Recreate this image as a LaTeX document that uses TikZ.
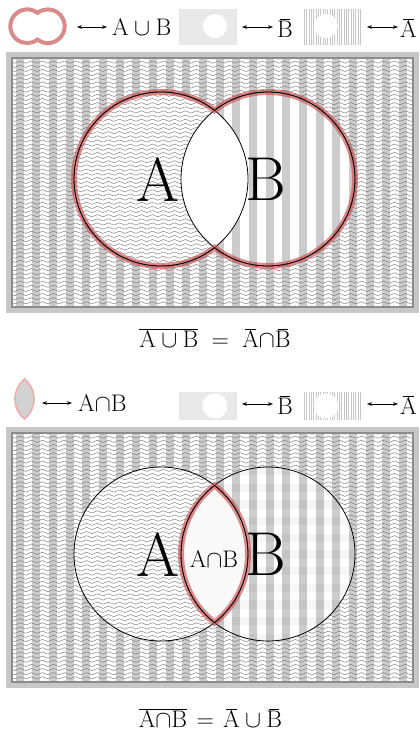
\RequirePackage{fix-cm}
\documentclass[tikz,border=0pt]{standalone}
\usetikzlibrary{decorations.pathmorphing,arrows.meta}
\definecolor{stripegray}{gray}{0.80}
\definecolor{wavegray}{gray}{0.42}
\definecolor{frameL}{gray}{0.78}
\definecolor{frameD}{gray}{0.55}
\definecolor{bandred}{RGB}{200,80,80}
\definecolor{iconred}{RGB}{217,138,138}
\definecolor{lenspink}{RGB}{240,172,172}
\tikzset{
  wavyline/.style={draw=wavegray, line width=0.35pt, decorate,
     decoration={snake, amplitude=1.1pt, segment length=11pt}},
  framelight/.style={draw=frameL, line width=5pt},
  framedark/.style={draw=frameD, line width=2pt},
  circ/.style={draw=black, line width=0.8pt},
  band/.style={draw=bandred, draw opacity=0.65, line width=6pt},
  dblarrow/.style={arrows={Stealth[length=5pt,width=3.6pt]-Stealth[length=5pt,width=3.6pt]}, line width=0.6pt},
  lbl/.style={font=\fontsize{24}{28}\selectfont, inner sep=0pt},
  biglbl/.style={font=\fontsize{62}{62}\selectfont, inner sep=0pt},
}
\newcommand{\sbar}[1]{\mkern2mu\overline{\mkern-2mu\mathrm{#1}\mkern-2mu}\mkern2mu}
\newcommand{\VStripes}[2]{%
  \foreach \i in {0,...,23} {\fill[stripegray] ({15.5+16.667*\i},#1) rectangle ++(8.3,#2);}}
\newcommand{\Waves}[1]{%
  \foreach \j in {0,...,60} {\draw[wavyline] (6,{#1+4.15*\j}) -- (420,{#1+4.15*\j});}}
\newcommand{\LensPath}{(214.5,110.4) arc[start angle=-52.05, end angle=52.05, radius=87] arc[start angle=127.95, end angle=232.05, radius=87] -- cycle}
\newcommand{\UnionPath}{(214.5,110.4) arc[start angle=-52.05, end angle=-307.95, radius=87] arc[start angle=127.95, end angle=-127.95, radius=87] -- cycle}
\newcommand{\PanelBase}{%
  \begin{scope}
    \clip (12,58) rectangle (413,307);
    \fill[white] (12,58) rectangle (413,307);
    \VStripes{58}{249}
    \fill[white] (161,179) circle[radius=87];
    \Waves{58}
    \fill[white] (268,179) circle[radius=87];
    \begin{scope}
      \clip (268,179) circle[radius=87];
      \VStripes{58}{249}
    \end{scope}
  \end{scope}
  \draw[framelight] (8.5,54.5) rectangle (416.5,310.5);
  \draw[framedark] (12,58) rectangle (413,307);}
\newcommand{\MiniB}[2]{% top y, height
  \fill[gray!17] (179,#1) rectangle (237,#1+#2);}
\newcommand{\MiniA}[2]{%
  \foreach \k in {0,...,24} {\fill[gray!45] ({304+2.33*\k},#1) rectangle ++(1,#2);}}
\begin{document}
\begin{tikzpicture}[x=1pt,y=-1pt]
\useasboundingbox (0,0) rectangle (420,734);
\fill[white] (0,0) rectangle (420,734);

% ---------- top legend ----------
\draw[iconred, line width=4pt] (37.5,12.9) arc[start angle=-52.3, end angle=-307.7, radius=16.85]
   arc[start angle=127.7, end angle=-127.7, radius=16.85] -- cycle;
\coordinate (ua1) at (77,27); \coordinate (ua2) at (107,27);
\draw[dblarrow] (ua1) -- (ua2);
\node[lbl, anchor=base west] (tAuB) at (112,35.5) {$\mathrm{A}\cup\mathrm{B}$};

\MiniB{9}{36}
\fill[white] (215,26) circle[radius=12];
\coordinate (ba1) at (242,27); \coordinate (ba2) at (273,27);
\draw[dblarrow] (ba1) -- (ba2);
\node[lbl, anchor=base west] (tBbar) at (277,37) {$\sbar{B}$};

\MiniA{9}{36}
\fill[white] (326,26) circle[radius=12];
\coordinate (aa1) at (367,27); \coordinate (aa2) at (398,27);
\draw[dblarrow] (aa1) -- (aa2);
\node[lbl, anchor=base west] (tAbar) at (400,37) {$\sbar{A}$};

% ---------- top panel ----------
\PanelBase
\fill[white] \LensPath;
\draw[circ] (161,179) circle[radius=87];
\draw[circ] (268,179) circle[radius=87];
\draw[band] \UnionPath;
\draw[circ] \UnionPath;
\node[biglbl, anchor=base] (bigA1) at (158,201) {A};
\node[biglbl, anchor=base] (bigB1) at (266,200) {B};
\node[lbl, anchor=base] (eq1) at (215,347) {$\overline{\mathrm{A}\cup\mathrm{B}}\;=\;\sbar{A}{\cap}\sbar{B}$};

% ---------- bottom legend ----------
\filldraw[fill=gray!35, draw=lenspink, line width=1.6pt] (24.5,379) arc[start angle=-50.8, end angle=50.8, radius=25.8]
   arc[start angle=129.2, end angle=230.8, radius=25.8] -- cycle;
\coordinate (la1) at (42,403); \coordinate (la2) at (72,403);
\draw[dblarrow] (la1) -- (la2);
\node[lbl, anchor=base west] (tAnB) at (78,411) {$\mathrm{A}{\cap}\mathrm{B}$};

\MiniB{392}{28}
\fill[white] (215,406) circle[radius=12.5];
\coordinate (bb1) at (242,404); \coordinate (bb2) at (273,404);
\draw[dblarrow] (bb1) -- (bb2);
\node[lbl, anchor=base west] (tBbar2) at (277,414) {$\sbar{B}$};

\MiniA{392}{28}
\fill[white] (326,406) circle[radius=12.5];
\coordinate (ab1) at (367,404); \coordinate (ab2) at (398,404);
\draw[dblarrow] (ab1) -- (ab2);
\node[lbl, anchor=base west] (tAbar2) at (400,414) {$\sbar{A}$};

% ---------- bottom panel ----------
\begin{scope}[shift={(0,375)}]
  \PanelBase
  \begin{scope}
    \clip (268,179) circle[radius=87];
    \foreach \r in {0,...,11} {\fill[black, fill opacity=0.035] (180,{92+16.667*\r}) rectangle ++(176,8.3);}
  \end{scope}
  \fill[gray!5] \LensPath;
  \draw[circ] (161,179) circle[radius=87];
  \draw[circ] (268,179) circle[radius=87];
  \draw[band] \LensPath;
  \draw[circ] \LensPath;
\end{scope}
\node[biglbl, anchor=base] (bigA2) at (158,576) {A};
\node[biglbl, anchor=base] (bigB2) at (266,575) {B};
\node[lbl, anchor=base] (lensAB) at (214,567) {$\mathrm{A}{\cap}\mathrm{B}$};
\node[lbl, anchor=base] (eq2) at (210.5,727) {$\overline{\mathrm{A}{\cap}\mathrm{B}}\mkern2mu=\mkern2mu\sbar{A}\cup\sbar{B}$};
\end{tikzpicture}
\end{document}
